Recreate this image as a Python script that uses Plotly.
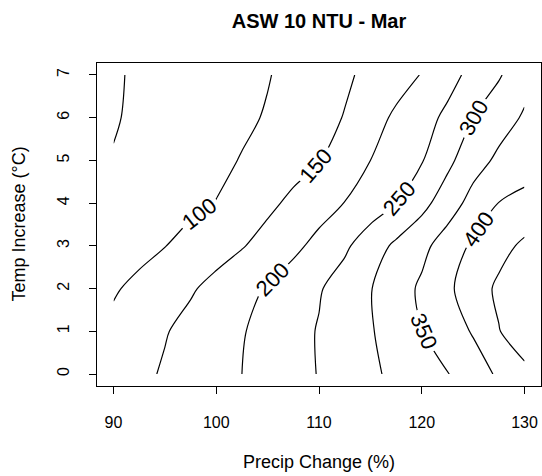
import plotly.graph_objects as go

# Precip change (%) grid columns and temperature increase rows
precip = [90, 92.5, 95, 97.5, 100, 102.5, 105, 107.5, 110, 112.5, 115,
          117.5, 120, 122.5, 125, 127.5, 130]
temp = [0, 1, 2, 3, 4, 5, 6, 7]

# Estimated NTU values read from contour positions (rows = temp)
z_t0 = [123, 139, 155, 170, 185, 200, 217, 234, 252, 271, 291, 311, 330, 348, 377, 407, 437]
z_t1 = [112, 130, 147, 164, 180, 197, 215, 234, 253, 275, 296, 322, 349, 376, 404, 448, 480]
z_t2 = [95, 112, 129, 145, 164, 184, 204, 225, 246, 271, 298, 327, 358, 391, 425, 459, 490]
z_t3 = [70, 85, 99, 115, 131, 147, 167, 189, 214, 242, 276, 309, 337, 373, 408, 434, 459]
z_t4 = [60, 70, 80, 90, 101, 120, 140, 160, 180, 201, 225, 250, 285, 326, 367, 401, 415]
z_t5 = [52, 62, 72, 82, 91, 102, 117, 133, 148, 173, 200, 224, 247, 288, 331, 359, 375]
z_t6 = [47, 57, 66, 75, 84, 93, 103, 119, 135, 152, 181, 208, 232, 260, 300, 331, 355]
z_t7 = [46, 55, 64, 72, 81, 89, 98, 111, 127, 143, 161, 181, 202, 233, 264, 295, 335]
z = [z_t0, z_t1, z_t2, z_t3, z_t4, z_t5, z_t6, z_t7]

x_ticks = [90, 100, 110, 120, 130]
y_ticks = [0, 1, 2, 3, 4, 5, 6, 7]

black = [[0, "black"], [1, "black"]]
FONT = "Liberation Sans, Arial, sans-serif"

fig = go.Figure()
fig.add_trace(go.Contour(
    x=precip, y=temp, z=z,
    colorscale=black, showscale=False,
    contours=dict(coloring="lines", start=50, end=400, size=50,
                  showlabels=True,
                  labelfont=dict(size=22, color="black", family=FONT)),
    line=dict(width=1.2, smoothing=0.9),
    hoverinfo="skip",
))
fig.add_trace(go.Contour(
    x=precip, y=temp, z=z,
    colorscale=black, showscale=False,
    contours=dict(coloring="lines", start=450, end=450, size=50,
                  showlabels=False),
    line=dict(width=1.2, smoothing=0.9),
    hoverinfo="skip",
))

axis_common = dict(showline=True, linecolor="black", linewidth=1, mirror=True,
                   ticks="outside", ticklen=7, tickcolor="black",
                   showgrid=False, zeroline=False,
                   tickfont=dict(size=16, color="black", family=FONT))

fig.update_layout(
    width=542, height=476,
    margin=dict(l=97, r=1, t=63, b=90),
    paper_bgcolor="white", plot_bgcolor="white",
    showlegend=False,
    title=dict(text="<b>ASW 10 NTU - Mar</b>", xref="paper", x=0.5, xanchor="center",
               yref="container", y=1 - 21 / 476, yanchor="middle",
               font=dict(size=20, color="black", family=FONT)),
    xaxis=dict(range=[88.4, 131.6], tickvals=x_ticks, ticklabelstandoff=15, **axis_common),
    yaxis=dict(range=[-0.28, 7.28], tickvals=y_ticks, tickangle=-90,
               ticklabelstandoff=14, **axis_common),
    annotations=[
        dict(text="Precip Change (%)", xref="paper", yref="paper", x=0.5,
             y=(386 - 462) / 323, xanchor="center", yanchor="middle",
             showarrow=False, font=dict(size=18, color="black", family=FONT)),
        dict(text="Temp Increase (°C)", xref="paper", yref="paper",
             x=(18 - 97) / 444, y=0.5, xanchor="center", yanchor="middle",
             textangle=-90, showarrow=False,
             font=dict(size=18, color="black", family=FONT)),
    ],
)

fig.write_html("out.html")
